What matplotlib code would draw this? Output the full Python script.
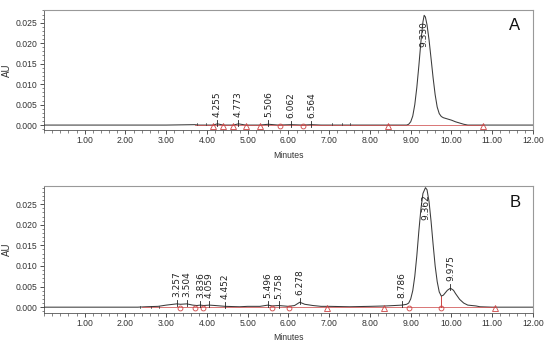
import matplotlib
matplotlib.use("Agg")
import matplotlib.pyplot as plt
from matplotlib.ticker import MultipleLocator, FormatStrFormatter

# ---------------- data ----------------
# Trace A (time in minutes, absorbance AU)
time_a = [0.0, 3.0, 3.70, 3.80, 4.15, 4.255, 4.40, 4.65, 4.773, 4.95, 5.30, 5.506,
          5.75, 6.062, 6.35, 6.564, 6.80, 7.50, 8.40, 8.90, 8.95, 9.00, 9.05, 9.10,
          9.15, 9.20, 9.25, 9.30, 9.33, 9.36, 9.40, 9.45, 9.50, 9.55, 9.60, 9.65,
          9.70, 9.75, 9.80, 9.90, 10.00, 10.10, 10.20, 10.30, 10.40, 10.80, 12.0]
au_a = [0.0, 0.0, 0.0001, 0.0, 0.0, 0.0003, 0.0, 0.0, 0.0003, 0.0, 0.0, 0.0002,
        0.0, 0.0001, 0.0, 0.0001, 0.0, 0.0, 0.0, 0.0, 0.0002, 0.0008, 0.0022, 0.0050,
        0.0092, 0.0145, 0.0203, 0.0252, 0.0268, 0.0264, 0.0245, 0.0208, 0.0162, 0.0115,
        0.0074, 0.0044, 0.0028, 0.0021, 0.0018, 0.0015, 0.0012, 0.0008, 0.0005, 0.0002,
        0.0000, 0.0, 0.0]

# Trace B
time_b = [0.0, 2.30, 2.50, 2.80, 3.00, 3.257, 3.35, 3.504, 3.65, 3.75, 3.836, 3.92,
          4.059, 4.20, 4.452, 4.80, 5.00, 5.30, 5.496, 5.60, 5.758, 6.00, 6.15, 6.278,
          6.40, 6.60, 6.80, 7.00, 7.50, 8.00, 8.40, 8.60, 8.786, 8.90, 8.95, 9.00,
          9.05, 9.10, 9.15, 9.20, 9.25, 9.30, 9.362, 9.40, 9.45, 9.50, 9.55, 9.60,
          9.65, 9.70, 9.75, 9.80, 9.85, 9.90, 9.975, 10.05, 10.10, 10.20, 10.30,
          10.40, 10.60, 10.70, 11.0, 12.0]
au_b = [0.0, 0.0, 0.0001, 0.0002, 0.0005, 0.0008, 0.0007, 0.0008, 0.0005, 0.0004,
        0.0005, 0.0004, 0.0005, 0.0004, 0.0002, 0.0001, 0.0002, 0.0002, 0.0005,
        0.0003, 0.0004, 0.0002, 0.0004, 0.0012, 0.0007, 0.0004, 0.0002, 0.0002,
        0.0001, 0.0002, 0.0003, 0.0004, 0.0005, 0.0007, 0.0010, 0.0020, 0.0040,
        0.0075, 0.0125, 0.0185, 0.0238, 0.0276, 0.0290, 0.0285, 0.0256, 0.0208,
        0.0152, 0.0100, 0.0062, 0.0037, 0.0027, 0.0029, 0.0035, 0.0041, 0.0046,
        0.0041, 0.0033, 0.0019, 0.0010, 0.0005, 0.0003, 0.0001, 0.0, 0.0]

# Peak labels (retention times) and their apex heights
peaks_a = [4.255, 4.773, 5.506, 6.062, 6.564]
peak_h_a = [0.0003, 0.0003, 0.0002, 0.0001, 0.0001]
main_a = 9.330
main_h_a = 0.0268

peaks_b = [3.257, 3.504, 3.836, 4.059, 4.452, 5.496, 5.758, 6.278, 8.786, 9.975]
peak_h_b = [0.0008, 0.0008, 0.0005, 0.0005, 0.0002, 0.0005, 0.0004, 0.0012, 0.0005, 0.0046]
main_b = 9.362
main_h_b = 0.0290

# Integration marks
tri_a = [4.15, 4.39, 4.63, 4.95, 5.30, 8.45, 10.77]
circ_a = [5.79, 6.35]
base_a = [3.70, 10.78]
events_a = [3.75, 3.97, 7.07, 7.31, 7.51]

tri_b = [6.95, 8.35, 11.08]
circ_b = [3.34, 3.70, 3.91, 5.59, 6.01, 8.95, 9.75]
base_b = [2.40, 11.08]
drop_b = 9.75
drop_h_b = 0.0027
events_b = [2.35, 2.62, 2.82]

panel_names = ["A", "B"]
x_ticks = [1, 2, 3, 4, 5, 6, 7, 8, 9, 10, 11, 12]
y_ticks = [0.000, 0.005, 0.010, 0.015, 0.020, 0.025]

# ---------------- drawing ----------------
TRACE = "#3a3a3a"
RED = "#cc4444"
TICKFONT = ["Liberation Sans Narrow", "Liberation Sans", "DejaVu Sans"]

fig = plt.figure(figsize=(5.5, 3.45), dpi=100)
ax_a = fig.add_axes([0.080, 0.623, 0.889, 0.348])
ax_b = fig.add_axes([0.080, 0.094, 0.889, 0.368])


def style(ax, ylim):
    ax.set_xlim(0, 12)
    ax.set_ylim(*ylim)
    ax.set_xticks(x_ticks)
    ax.xaxis.set_major_formatter(FormatStrFormatter("%.2f"))
    ax.xaxis.set_minor_locator(MultipleLocator(0.2))
    ax.set_yticks(y_ticks)
    ax.yaxis.set_major_formatter(FormatStrFormatter("%.3f"))
    ax.yaxis.set_minor_locator(MultipleLocator(0.001))
    ax.tick_params(which="major", direction="out", length=3, width=0.6,
                   colors="#333333", labelsize=6.2, pad=1.5)
    ax.tick_params(which="minor", direction="out", length=1.8, width=0.5,
                   colors="#555555")
    for lab in ax.get_xticklabels() + ax.get_yticklabels():
        lab.set_family(TICKFONT)
    for s in ["top", "right"]:
        ax.spines[s].set_color("#999999")
        ax.spines[s].set_linewidth(0.8)
    for s in ["left", "bottom"]:
        ax.spines[s].set_color("#555555")
        ax.spines[s].set_linewidth(0.6)
    ax.set_xlabel("Minutes", fontsize=6.2, family=TICKFONT, labelpad=4, color="#333333")
    ax.set_ylabel("AU", fontsize=7, family=TICKFONT, labelpad=3, color="#333333")


def draw(ax, t, y, peaks, ph, main_t, main_h, tri, circ, base, events, name):
    ax.plot(t, y, color=TRACE, lw=0.75, zorder=3)
    ax.plot([base[0], base[1]], [0, 0], color=RED, lw=0.6, alpha=0.85, zorder=3.5)
    ax.plot(tri, [-0.0002] * len(tri), linestyle="none", marker="^", ms=4.5,
            mfc="none", mec=RED, mew=0.6, zorder=4)
    ax.plot(circ, [-0.0003] * len(circ), linestyle="none", marker="o", ms=3.5,
            mfc="none", mec=RED, mew=0.6, zorder=4)
    for e in events:
        ax.plot([e, e], [-0.0001, 0.0004], color="#333333", lw=0.5, zorder=4)
    for p, h in zip(peaks, ph):
        ax.plot([p, p], [h - 0.0005, h + 0.0010], color="#222222", lw=0.6, zorder=4)
        ax.annotate(f"{p:.3f}", xy=(p, h + 0.0010), xytext=(0, 2),
                    textcoords="offset points", rotation=90, ha="center", va="bottom",
                    fontsize=6.5, color="#222222", zorder=5)
    ax.annotate(f"{main_t:.3f}", xy=(main_t, main_h - 0.0015), rotation=90,
                ha="center", va="top", fontsize=6.5, color="#222222", zorder=5)
    ax.text(0.963, 0.867, name, transform=ax.transAxes, fontsize=12,
            ha="center", va="center", color="#111111", family=TICKFONT)


style(ax_a, (-0.00122, 0.0281))
style(ax_b, (-0.00131, 0.0295))

draw(ax_a, time_a, au_a, peaks_a, peak_h_a, main_a, main_h_a, tri_a, circ_a,
     base_a, events_a, panel_names[0])
draw(ax_b, time_b, au_b, peaks_b, peak_h_b, main_b, main_h_b, tri_b, circ_b,
     base_b, events_b, panel_names[1])
ax_b.plot([drop_b, drop_b], [0, drop_h_b], color=RED, lw=0.7, zorder=2)

fig.savefig("out.png", dpi=100)
